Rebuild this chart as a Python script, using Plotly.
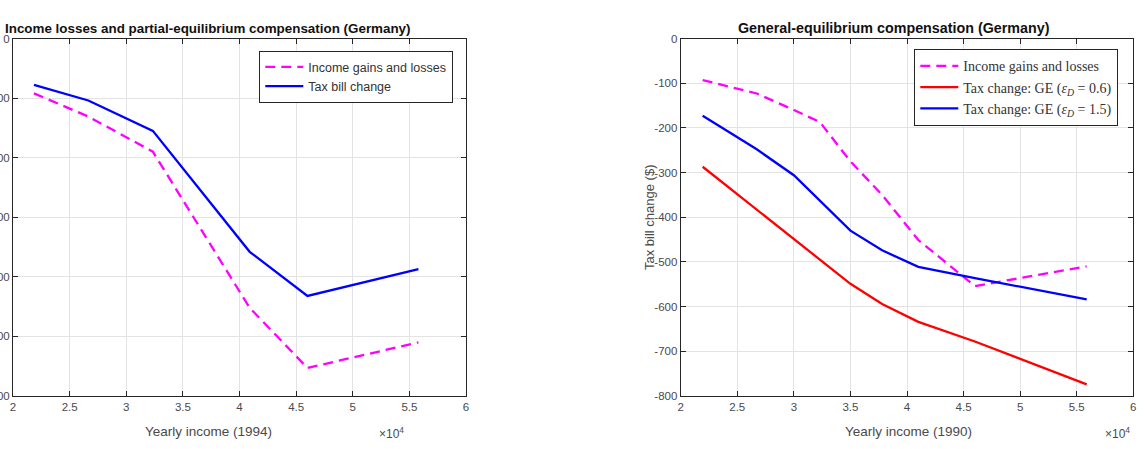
import plotly.graph_objects as go

# ---------------- data ----------------
# Left panel (1994 incomes)
left_income = [21850, 26650, 32350, 40900, 46000, 55800]
left_gains_losses = [-92, -131, -190, -452, -553, -510]
left_tax_bill = [-78, -104, -155, -358, -432, -387]

# Right panel (1990 incomes)
right_income = [21940, 26720, 30000, 32300, 35000, 37800, 41000, 46000, 55880]
right_gains_losses = [-93, -123, -160, -187, -275, -350, -451, -554, -510]
right_ge_06 = [-287, -383, -449, -496, -549, -594, -634, -678, -774]
right_ge_15 = [-173, -248, -306, -363, -430, -474, -511, -536, -584]

x_tickvals = [20000, 25000, 30000, 35000, 40000, 45000, 50000, 55000, 60000]
x_ticktext = ["2", "2.5", "3", "3.5", "4", "4.5", "5", "5.5", "6"]
y_tickvals = [0, -100, -200, -300, -400, -500, -600, -700, -800]
y_ticktext = ["0", "-100", "-200", "-300", "-400", "-500", "-600", "-700", "-800"]

W, H = 1146, 449
MAGENTA, BLUE, RED = "#ff00ff", "#0000ff", "#ff0000"
AX = "#262626"
GRID = "#e3e3e3"
SANS = "Liberation Sans, Arial, sans-serif"
SERIF = "Liberation Serif, Times New Roman, serif"

fig = go.Figure()

# left panel
fig.add_trace(go.Scatter(x=left_income, y=left_gains_losses, mode="lines",
                         name="Income gains and losses",
                         line=dict(color=MAGENTA, width=2.3, dash="10px,6px"),
                         xaxis="x", yaxis="y", legend="legend"))
fig.add_trace(go.Scatter(x=left_income, y=left_tax_bill, mode="lines",
                         name="Tax bill change",
                         line=dict(color=BLUE, width=2.3),
                         xaxis="x", yaxis="y", legend="legend"))

# right panel
fig.add_trace(go.Scatter(x=right_income, y=right_gains_losses, mode="lines",
                         name="Income gains and losses",
                         line=dict(color=MAGENTA, width=2.3, dash="10px,6px"),
                         xaxis="x2", yaxis="y2", legend="legend2"))
fig.add_trace(go.Scatter(x=right_income, y=right_ge_06, mode="lines",
                         name="Tax change: GE (<i>ε</i><sub><i>D</i></sub> = 0.6)",
                         line=dict(color=RED, width=2.3),
                         xaxis="x2", yaxis="y2", legend="legend2"))
fig.add_trace(go.Scatter(x=right_income, y=right_ge_15, mode="lines",
                         name="Tax change: GE (<i>ε</i><sub><i>D</i></sub> = 1.5)",
                         line=dict(color=BLUE, width=2.3),
                         xaxis="x2", yaxis="y2", legend="legend2"))

def px_x(p):
    return p / W

def px_y(p):
    return 1 - p / H

TICKFONT = dict(family=SANS, size=11.5, color="#4a4a4a")
common_x = dict(range=[20000, 60000], tickvals=x_tickvals, ticktext=x_ticktext,
                showgrid=True, gridcolor=GRID, gridwidth=1,
                showline=True, linecolor=AX, linewidth=1, mirror="allticks",
                ticks="inside", ticklen=5, tickcolor=AX,
                tickfont=TICKFONT, automargin=False,
                zeroline=False, fixedrange=True)
common_y = dict(tickvals=y_tickvals, ticktext=y_ticktext,
                showgrid=True, gridcolor=GRID, gridwidth=1,
                showline=True, linecolor=AX, linewidth=1, mirror="allticks",
                ticks="inside", ticklen=5, tickcolor=AX,
                tickfont=TICKFONT, automargin=False,
                zeroline=False, fixedrange=True)

ydom = [px_y(396), px_y(38.5)]

fig.update_layout(
    template="none",
    width=W, height=H,
    margin=dict(l=0, r=0, t=0, b=0, autoexpand=False),
    paper_bgcolor="white", plot_bgcolor="white",
    showlegend=True,
    xaxis=dict(domain=[px_x(13), px_x(466)], anchor="y", **common_x),
    yaxis=dict(domain=ydom, anchor="x", range=[-600, 0], **common_y),
    xaxis2=dict(domain=[px_x(680.7), px_x(1133.3)], anchor="y2", **common_x),
    yaxis2=dict(domain=ydom, anchor="x2", range=[-800, 0], **common_y),
    legend=dict(x=px_x(259), y=px_y(51), xanchor="left", yanchor="top",
                bgcolor="white", bordercolor=AX, borderwidth=1.3,
                font=dict(family=SANS, size=12.5, color="#333333"),
                tracegroupgap=0, itemwidth=38),
    legend2=dict(x=px_x(914), y=px_y(49), xanchor="left", yanchor="top",
                 bgcolor="white", bordercolor=AX, borderwidth=1.3,
                 font=dict(family=SERIF, size=14, color="#333333"),
                 tracegroupgap=0, itemwidth=38),
)

ann = []
def text(x, y, t, size, color, family=SANS, angle=0, bold=False):
    if bold:
        t = "<b>" + t + "</b>"
    ann.append(dict(x=px_x(x), y=px_y(y), xref="paper", yref="paper", text=t,
                    showarrow=False, xanchor="center", yanchor="middle",
                    textangle=angle,
                    font=dict(family=family, size=size, color=color)))

text(208, 28.5, "Income losses and partial-equilibrium compensation (Germany)", 13.4, "#111111", bold=True)
text(894, 28.5, "General-equilibrium compensation (Germany)", 14.3, "#111111", bold=True)
text(208, 431, "Yearly income (1994)", 13.5, "#4a4a4a")
text(908, 431, "Yearly income (1990)", 13.5, "#4a4a4a")
text(391, 433, "×10<sup>4</sup>", 12, "#4a4a4a")
text(1117, 433, "×10<sup>4</sup>", 12, "#4a4a4a")
text(649, 217, "Tax bill change ($)", 13, "#4a4a4a", angle=-90)
fig.update_layout(annotations=ann)

fig.write_html("out.html")
